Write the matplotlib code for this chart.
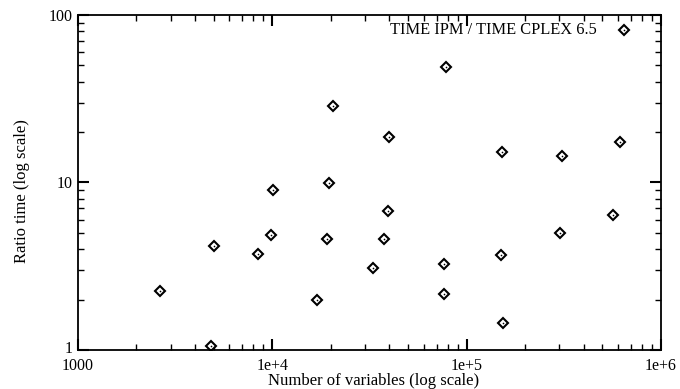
import matplotlib
matplotlib.use('Agg')
import matplotlib.pyplot as plt
import matplotlib.transforms as mtransforms
from matplotlib.ticker import FixedLocator, LogLocator, FixedFormatter, NullFormatter

# number of variables and time ratio (IPM / CPLEX 6.5)
n_vars = [2640, 4820, 5010, 8470, 9850, 10120, 16930, 19050, 19500, 20460,
          33110, 37690, 39540, 39720, 76600, 76760, 78300, 150900, 152700, 154400,
          303500, 309700, 564900, 615600, 648600]
ratio = [2.24, 1.06, 4.20, 3.74, 4.84, 8.98, 1.98, 4.62, 9.93, 28.6,
         3.10, 4.62, 6.79, 18.7, 2.15, 3.25, 48.9, 3.67, 15.3, 1.44,
         4.97, 14.45, 6.40, 17.4, 81.3]

xticks = [1000, 1e4, 1e5, 1e6]
xlabels = ['1000', '1e+4', '1e+5', '1e+6']
yticks = [1, 10, 100]
ylabels = ['1', '10', '100']

plt.rcParams['font.family'] = ['Liberation Serif', 'DejaVu Serif']

fig = plt.figure(figsize=(6.8, 3.89), dpi=100)
ax = fig.add_axes([0.1147, 0.1003, 0.8573, 0.8611])

ax.plot(n_vars, ratio, linestyle='none', marker='D', ms=4.6, mfc='white',
        mec='black', mew=1.5)
ax.plot(n_vars, ratio, linestyle='none', marker='o', ms=1.2, mfc='black',
        mec='black', mew=0)

ax.set_xscale('log')
ax.set_yscale('log')
ax.set_xlim(1000, 1e6)
ax.set_ylim(1, 100)

ax.xaxis.set_major_locator(FixedLocator(xticks))
ax.xaxis.set_major_formatter(FixedFormatter(xlabels))
ax.yaxis.set_major_locator(FixedLocator(yticks))
ax.yaxis.set_major_formatter(FixedFormatter(ylabels))
ax.xaxis.set_minor_locator(LogLocator(base=10, subs=range(2, 10)))
ax.yaxis.set_minor_locator(LogLocator(base=10, subs=range(2, 10)))
ax.xaxis.set_minor_formatter(NullFormatter())
ax.yaxis.set_minor_formatter(NullFormatter())

ax.tick_params(which='both', direction='in', top=True, right=True,
               labelsize=11.5, colors='black')
ax.tick_params(which='major', length=8, width=1.5)
ax.tick_params(which='minor', length=4, width=1.0)
ax.tick_params(axis='x', which='major', pad=6)
ax.tick_params(axis='y', which='major', pad=4)
for s in ax.spines.values():
    s.set_linewidth(1.3)

# nudge the "1" label up a little so it clears "1000"
lbl = ax.yaxis.get_major_ticks()[0].label1
lbl.set_transform(lbl.get_transform() +
                  mtransforms.ScaledTranslation(0, 2.5 / 72, fig.dpi_scale_trans))

ax.set_xlabel('Number of variables (log scale)', fontsize=12)
ax.set_ylabel('Ratio time (log scale)', fontsize=12)
ax.xaxis.set_label_coords(0.507, -0.068)
ax.yaxis.set_label_coords(-0.082, 0.475)

ax.text(0.535, 0.955, 'TIME IPM / TIME CPLEX 6.5', transform=ax.transAxes,
        fontsize=11.8, va='center', ha='left')

fig.savefig('out.png', dpi=100)
